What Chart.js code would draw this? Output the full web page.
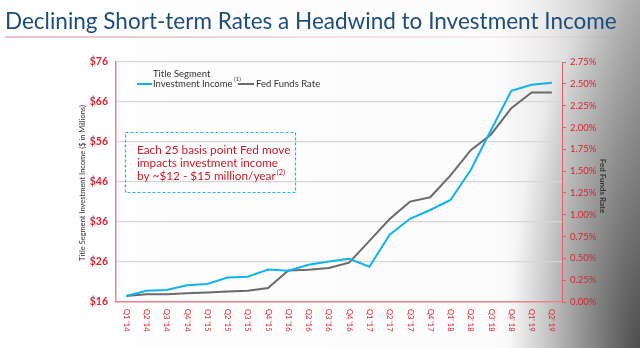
<!DOCTYPE html>
<html>
<head>
<meta charset="utf-8">
<script src="https://cdn.jsdelivr.net/npm/chart.js@4/dist/chart.umd.min.js"></script>
<style>
    html, body { margin: 0; padding: 0; }
    body {
        width: 640px; height: 348px; overflow: hidden;
        background:
            radial-gradient(ellipse 130px 360px at 640px 348px, rgba(0,0,0,0.55), rgba(0,0,0,0)),
            linear-gradient(90deg, #ffffff 0%, #fbfbfb 78%, #ececec 85%, #d0d0d0 92%, #adadad 100%);
    }
    canvas { display: block; }
</style>
</head>
<body>
<canvas id="chart" width="640" height="348"></canvas>
<script>
/* Datos */
const quarters = ["Q1 '14", "Q2 '14", "Q3 '14", "Q4 '14", "Q1 '15", "Q2 '15", "Q3 '15", "Q4 '15",
    "Q1 '16", "Q2 '16", "Q3 '16", "Q4 '16", "Q1 '17", "Q2 '17", "Q3 '17", "Q4 '17",
    "Q1' 18", "Q2' 18", "Q3' 18", "Q4' 18", "Q1' 19", "Q2' 19"];
const investmentIncome = [17.5, 18.8, 19.0, 20.2, 20.5, 22.1, 22.3, 24.1, 23.8, 25.3, 26.1, 26.8,
    24.8, 32.8, 36.8, 39.0, 41.5, 49.0, 59.0, 68.8, 70.3, 70.8];
const fedFundsRate = [0.07, 0.09, 0.09, 0.10, 0.11, 0.12, 0.13, 0.16, 0.36, 0.37, 0.39, 0.45,
    0.70, 0.95, 1.15, 1.20, 1.45, 1.74, 1.92, 2.22, 2.40, 2.40];
const incomeTicks = [16, 26, 36, 46, 56, 66, 76];
const rateTicks = [0, 0.25, 0.5, 0.75, 1, 1.25, 1.5, 1.75, 2, 2.25, 2.5, 2.75];

const RED = '#d8232f';
const AXIS_RED = '#e5868d';
const BLUE = '#12b2ee';
const GRAY = '#6b6b6b';
const FONT = 'Lato, "Open Sans", sans-serif';

const decoraciones = {
    id: 'decoraciones',
    afterDraw(chart) {
        const ctx = chart.ctx;
        const area = chart.chartArea;
        const x = chart.scales.x;
        ctx.save();

        // titulo
        const titulo = 'Declining Short-term Rates a Headwind to Investment Income';
        ctx.font = '26px ' + FONT;
        let ancho = ctx.measureText(titulo).width;
        const tam = Math.min(28, 26 * 612 / ancho);
        ctx.font = tam + 'px ' + FONT;
        ctx.fillStyle = '#1d4d7c';
        ctx.textBaseline = 'alphabetic';
        ctx.fillText(titulo, 5, 29);
        const grad = ctx.createLinearGradient(5, 0, 620, 0);
        grad.addColorStop(0, 'rgba(205,110,120,0.85)');
        grad.addColorStop(0.6, 'rgba(205,110,120,0.35)');
        grad.addColorStop(1, 'rgba(205,110,120,0.1)');
        ctx.strokeStyle = grad;
        ctx.lineWidth = 1.2;
        ctx.beginPath(); ctx.moveTo(5, 37); ctx.lineTo(620, 37); ctx.stroke();

        // etiquetas del eje x (giradas en sentido horario)
        ctx.font = '7.5px ' + FONT;
        ctx.fillStyle = RED;
        ctx.textAlign = 'left';
        ctx.textBaseline = 'middle';
        quarters.forEach((q, i) => {
            ctx.save();
            ctx.translate(x.getPixelForTick(i), area.bottom + 7);
            ctx.rotate(Math.PI / 2);
            ctx.fillText(q, 0, 0);
            ctx.restore();
        });

        // titulos de los ejes
        ctx.fillStyle = '#333';
        ctx.textAlign = 'center';
        ctx.font = '7.5px ' + FONT;
        ctx.save();
        ctx.translate(83, 183);
        ctx.rotate(-Math.PI / 2);
        ctx.fillText('Title Segment Investment Income ($ in Millions)', 0, 0);
        ctx.restore();
        ctx.font = 'bold 8px ' + FONT;
        ctx.save();
        ctx.translate(603, 186);
        ctx.rotate(Math.PI / 2);
        ctx.fillText('Fed Funds Rate', 0, 0);
        ctx.restore();

        // leyenda
        ctx.textAlign = 'left';
        ctx.font = '9.5px ' + FONT;
        ctx.fillStyle = '#333';
        ctx.fillText('Title Segment', 153, 74);
        ctx.fillText('Investment Income', 153, 84);
        const wLey = ctx.measureText('Investment Income').width;
        ctx.fillText('Fed Funds Rate', 256, 84);
        ctx.font = '6px ' + FONT;
        ctx.fillText('(1)', 153 + wLey + 1.5, 79);
        ctx.lineWidth = 2;
        ctx.strokeStyle = BLUE;
        ctx.beginPath(); ctx.moveTo(137, 84); ctx.lineTo(152, 84); ctx.stroke();
        ctx.strokeStyle = GRAY;
        ctx.beginPath(); ctx.moveTo(238, 84); ctx.lineTo(254, 84); ctx.stroke();

        // cuadro de nota
        ctx.setLineDash([3, 2]);
        ctx.lineWidth = 1.2;
        ctx.strokeStyle = '#2ab4e6';
        ctx.strokeRect(125.5, 132.5, 170, 60);
        ctx.setLineDash([]);
        ctx.fillStyle = '#cc1b26';
        ctx.font = '11.8px ' + FONT;
        ctx.fillText('Each 25 basis point Fed move', 137, 150);
        ctx.fillText('impacts investment income', 137, 163);
        ctx.fillText('by ~$12 - $15 million/year', 137, 176);
        const w = ctx.measureText('by ~$12 - $15 million/year').width;
        ctx.font = '7.5px ' + FONT;
        ctx.fillText('(2)', 137 + w + 1, 173);

        ctx.restore();
    }
};

new Chart(document.getElementById('chart'), {
    type: 'line',
    data: {
        labels: quarters,
        datasets: [
            { label: 'Title Segment Investment Income', data: investmentIncome, yAxisID: 'y',
              borderColor: BLUE, borderWidth: 2, pointRadius: 0, tension: 0 },
            { label: 'Fed Funds Rate', data: fedFundsRate, yAxisID: 'y1',
              borderColor: GRAY, borderWidth: 2, pointRadius: 0, tension: 0 }
        ]
    },
    options: {
        responsive: false,
        animation: false,
        devicePixelRatio: 1,
        layout: { padding: { top: 62, left: 0, right: 0, bottom: 0 } },
        plugins: { legend: { display: false }, tooltip: { enabled: false } },
        scales: {
            x: {
                offset: true,
                grid: { display: false },
                border: { color: AXIS_RED, width: 1.5 },
                ticks: { display: false },
                afterFit: s => { s.height = 46; }
            },
            y: {
                position: 'left',
                min: 16, max: 76,
                afterBuildTicks: s => { s.ticks = incomeTicks.map(v => ({ value: v })); },
                grid: { color: '#d6d6d6', lineWidth: 1.3, drawTicks: false },
                border: { color: AXIS_RED, width: 1.5 },
                ticks: { color: RED, padding: 8, font: { family: FONT, size: 10.5, weight: 'bold' },
                    callback: v => '$' + v },
                afterFit: s => { s.width = 116; }
            },
            y1: {
                position: 'right',
                min: 0, max: 2.75,
                afterBuildTicks: s => { s.ticks = rateTicks.map(v => ({ value: v })); },
                grid: { drawOnChartArea: false, color: '#e06068', tickLength: 4 },
                border: { color: '#e06068', width: 1 },
                ticks: { color: RED, padding: 4, font: { family: FONT, size: 9.5 },
                    callback: v => v.toFixed(2) + '%' },
                afterFit: s => { s.width = 78; }
            }
        }
    },
    plugins: [decoraciones]
});
</script>
</body>
</html>
